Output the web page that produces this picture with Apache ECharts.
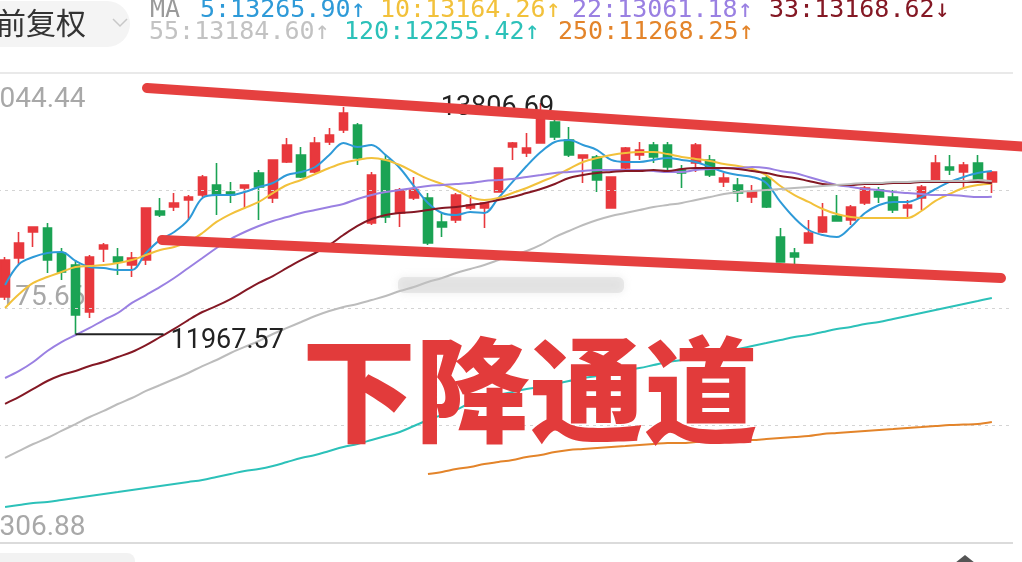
<!DOCTYPE html>
<html><head><meta charset="utf-8">
<script src="https://cdn.jsdelivr.net/npm/echarts@6/dist/echarts.min.js"></script>
<style>html,body{margin:0;padding:0;background:#fff;overflow:hidden}#c{width:1022px;height:562px}</style>
</head><body><div id="c"></div>
<script>
// ---------- data ----------
const open  = [12263,12573,12780,12812,12613,12518,12144,12645,12581,12518, 12557,12947,12979,13035,13074,13154,13098,13130,13249,13051, 13337,13392,13257,13496,13591,13631,12852,13353,12931,13051, 13051,12860,12876,12971,12971,13098,13456,13408,13488,13655, 13512,13369,13377,12971,13289,13392,13472,13472,13273,13329, 13353,13178,13154,13058,13210,12740,12613,12693,12780,12907, 12876,13011,13114,13058,12971,13051,13178,13297,13257,13329,13178];
const close = [12557,12693,12820,12557,12462,12120,12581,12677,12542,12573, 12971,12915,13011,13058,13218,13074,13074,13154,13138,13353, 13472,13218,13488,13551,13726,13369,13233,12899,13114,13114, 12693,12820,13074,12995,13011,13289,13488,13448,13687,13536, 13392,13392,13194,13217,13448,13432,13377,13297,13249,13472, 13233,13210,13090,13098,12979,12542,12581,12772,12899,12868, 12979,13130,13058,12955,12995,13138,13329,13273,13313,13194,13257];
const low   = [12239,12518,12661,12454,12399,11967.57,12096,12542,12438,12422, 12518,12899,12947,12876,13058,12915,13011,12971,12876,13011, 13329,13210,13249,13472,13567,13313,12836,12852,12820,13035, 12677,12740,12852,12955,12812,13094,13353,13377,13484,13512, 13377,13170,13098,12967,13273,13353,13329,13273,13130,13257, 13217,13138,13019,13011,12971,12538,12518,12689,12772,12864, 12836,12995,13011,12931,12891,12955,13174,13233,13130,13178,13090];
const high  = [12581,12780,12825,12852,12653,12557,12597,12693,12653,12621, 12975,13050,13090,13074,13233,13329,13178,13160,13273,13357, 13528,13456,13536,13607,13774,13647,13257,13392,13130,13217, 13090,12939,13090,13074,13019,13293,13496,13567,13806.69,13671, 13615,13396,13392,13221,13456,13496,13496,13496,13313,13488, 13392,13249,13210,13154,13233,12812,12653,12876,13011,13074, 12995,13146,13138,13114,13035,13154,13392,13392,13337,13392,13265];

const ma5   = [12359,12526,12581,12613,12621,12550,12502,12494,12478,12478, 12613,12717,12780,12876,13051,13074,13074,13098,13138,13170, 13233,13257,13297,13392,13488,13456,13472,13392,13289,13146, 13011,12931,12915,12939,12931,13051,13178,13305,13416,13496, 13512,13472,13432,13353,13337,13337,13353,13369,13353,13337, 13297,13257,13233,13218,13170,13019,12891,12796,12756,12740, 12820,12931,12995,13019,13019,13058,13122,13178,13218,13249,13265.90];
const ma10  = [12176,12287,12375,12422,12462,12502,12510,12518,12534,12557, 12597,12637,12661,12701,12772,12860,12923,12971,13019,13090, 13154,13194,13241,13289,13329,13353,13369,13353,13313,13257, 13202,13162,13114,13058,13035,13051,13090,13130,13178,13225, 13281,13337,13369,13392,13408,13416,13416,13400,13377,13361, 13345,13321,13305,13281,13233,13146,13074,13019,12963,12923, 12899,12891,12891,12891,12891,12947,13027,13082,13130,13154,13164.26];
const ma22  = [11619,11675,11746,11834,11905,11961,12017,12080,12136,12216, 12279,12343,12414,12494,12573,12653,12724,12780,12828,12868, 12899,12931,12955,12979,13003,13043,13074,13098,13114,13130, 13146,13154,13162,13170,13186,13194,13202,13218,13233,13249, 13257,13265,13273,13273,13273,13273,13265,13257,13257,13273, 13281,13289,13289,13297,13289,13265,13249,13218,13186,13154, 13138,13122,13114,13098,13090,13082,13074,13074,13066,13058,13061.18];
const ma33  = [11413,11468,11532,11595,11643,11675,11715,11746,11786,11826, 11881,11945,12009,12080,12144,12192,12247,12311,12375,12430, 12494,12557,12613,12677,12756,12828,12883,12915,12931,12939, 12955,12971,12979,12995,13011,13035,13058,13090,13122,13162, 13210,13233,13249,13257,13265,13265,13273,13265,13281,13289, 13289,13289,13281,13265,13249,13225,13210,13186,13162,13154, 13154,13162,13162,13170,13170,13178,13178,13178,13178,13178,13168.62];
const ma55  = [10983,11039,11094,11142,11198,11253,11309,11357,11412,11460, 11516,11563,11611,11659,11714,11762,11818,11866,11913,11969, 12017,12064,12112,12152,12184,12208,12239,12271,12311,12343, 12382,12414,12454,12486,12518,12557,12597,12629,12677,12740, 12788,12836,12876,12907,12931,12955,12979,12995,13011,13035, 13058,13082,13098,13106,13114,13122,13130,13138,13146,13154, 13162,13170,13170,13178,13178,13186,13186,13186,13186,13194,13184.60];
const ma120 = [10593,10609,10625,10633,10649,10665,10681,10697,10712,10728, 10744,10760,10776,10792,10808,10832,10856,10880,10895,10919, 10951,10983,11007,11039,11070,11094,11126,11158,11190,11237, 11285,11325,11365,11420,11452,11484,11508,11532,11547,11571, 11595,11619,11635,11659,11683,11698,11722,11746,11762,11786, 11810,11834,11850,11874,11897,11921,11945,11961,11985,12009, 12025,12048,12064,12088,12112,12136,12160,12184,12208,12231,12255.42];
const ma250 = [null,null,null,null,null,null,null,null,null,null, null,null,null,null,null,null,null,null,null,null, null,null,null,null,null,null,null,null,null,null, 10856,10872,10895,10911,10935,10951,10967,10991,11007,11031, 11047,11055,11063,11071,11078,11086,11094,11102,11102,11110, 11118,11118,11126,11126,11134,11142,11150,11158,11174,11182, 11190,11198,11206,11214,11222,11229,11237,11245,11249,11253,11268.25];

const yTicks = [10306.88, 11241.27, 12175.66, 13110.05, 14044.44];
const yLabelValues = [10306.88, 12175.66, 14044.44];

const maPeriods = ['5','10','22','33','55','120','250'];
const maLegendValues = ['13265.90','13164.26','13061.18','13168.62','13184.60','12255.42','11268.25'];
const maArrows = ['↑','↑','↑','↓','↑','↑','↑'];
const adjustLabel = '前复权';
const channelTitle = '下降通道';

// ---------- styling ----------
const maColors = ['#2e9ad8','#f2c13b','#9a80e2','#841824','#bcbcbc','#2cc1b9','#e3842a'];
const maWidths = [2, 2, 2, 2, 2, 2, 2];
const maSeriesData = [ma5, ma10, ma22, ma33, ma55, ma120, ma250];
const legendPos = [[200,10],[380,10],[572,10],[769,10],[149,32],[344,32],[558,32]];

const categories = [];
for (let i = 0; i < 72; i++) categories.push(String(i + 1));
const candle = open.map((o, i) => [o, close[i], low[i], high[i]]);

const chart = echarts.init(document.getElementById('c'));

const series = [{
  type: 'candlestick',
  data: candle,
  barWidth: 9,
  itemStyle: {color: '#e8383d', color0: '#1ba354', borderColor: '#e8383d', borderColor0: '#1ba354', borderWidth: 1.6},
  z: 2,
  silent: true,
  markLine: {
    silent: true, symbol: ['none','none'], label: {show: false},
    data: yTicks.map((v, i) => ({
      yAxis: v,
      lineStyle: (i === 0 || i === yTicks.length - 1)
        ? {type: 'solid', color: i === 0 ? '#cfcfcf' : '#e2e2e2', width: 1.5}
        : {type: [3, 4], color: '#d4d4d4', width: 1}
    }))
  }
}];
maSeriesData.forEach((d, k) => {
  series.push({
    type: 'line', data: d, smooth: 0.35, showSymbol: false, connectNulls: false,
    lineStyle: {color: maColors[k], width: maWidths[k]}, z: 5, silent: true
  });
});

chart.setOption({
  animation: false,
  backgroundColor: '#ffffff',
  grid: {left: -2, right: 9, top: 73, bottom: 19, containLabel: false, outerBoundsMode: 'none'},
  xAxis: {type: 'category', data: categories, boundaryGap: true,
    axisLine: {show: false}, axisTick: {show: false}, axisLabel: {show: false}, splitLine: {show: false}},
  yAxis: {type: 'value', min: yTicks[0], max: yTicks[yTicks.length - 1],
    axisLine: {show: false}, axisTick: {show: false}, splitLine: {show: false},
    axisLabel: {
      inside: true, margin: -30, customValues: yLabelValues, hideOverlap: false,
      formatter: function (v) {
        const s = Number(v).toFixed(2);
        if (Math.abs(v - yTicks[yTicks.length - 1]) < 0.5) return '{t|' + s + '}';
        if (Math.abs(v - yTicks[0]) < 0.5) return '{b|' + s + '}';
        return '{m|' + s + '}';
      },
      rich: {
        t: {color: '#a8a8a8', fontSize: 28, fontFamily: 'Roboto', padding: [54, 0, 0, 0]},
        m: {color: '#a8a8a8', fontSize: 28, fontFamily: 'Roboto', padding: [0, 0, 20, 0]},
        b: {color: '#a8a8a8', fontSize: 28, fontFamily: 'Roboto', padding: [0, 0, 30, 0]}
      }
    }
  },
  series: series
});

// ---------- overlay texts & annotations ----------
const g = [];
g.push({type: 'rect', shape: {x: -30, y: 1, width: 160, height: 46, r: 23}, style: {fill: '#f4f4f4'}, z: 50});
g.push({type: 'text', x: -4, y: 23, style: {text: adjustLabel, fill: '#333', font: '30px "Noto Sans CJK SC"', verticalAlign: 'middle', align: 'left'}, z: 51});
g.push({type: 'polyline', shape: {points: [[113, 19], [120, 26], [127, 19]]}, style: {stroke: '#c8c8c8', lineWidth: 1.5, fill: null}, z: 51});
g.push({type: 'text', x: 150, y: 10, style: {text: 'MA', fill: '#9a9a9a', font: '25px "DejaVu Sans Mono"', verticalAlign: 'middle'}, z: 51});
maPeriods.forEach((p, k) => {
  g.push({type: 'text', x: legendPos[k][0], y: legendPos[k][1],
    style: {text: p + ':' + maLegendValues[k] + maArrows[k], fill: maColors[k] === '#bcbcbc' ? '#c2c2c2' : maColors[k],
      font: '25px "DejaVu Sans Mono"', verticalAlign: 'middle'}, z: 51});
});

// min / max markers
let minIdx = 0, maxIdx = 0;
low.forEach((v, i) => { if (v < low[minIdx]) minIdx = i; });
high.forEach((v, i) => { if (v > high[maxIdx]) maxIdx = i; });
const pMin = chart.convertToPixel({gridIndex: 0}, [minIdx, low[minIdx]]);
const pMax = chart.convertToPixel({gridIndex: 0}, [maxIdx, high[maxIdx]]);
g.push({type: 'line', shape: {x1: pMin[0], y1: pMin[1], x2: pMin[0] + 88, y2: pMin[1]}, style: {stroke: '#222', lineWidth: 2}, z: 40});
g.push({type: 'text', x: pMin[0] + 95, y: pMin[1] + 7, style: {text: low[minIdx].toFixed(2), fill: '#222', font: '27px Roboto', verticalAlign: 'middle'}, z: 40});
g.push({type: 'text', x: pMax[0] - 100, y: pMax[1] + 5, style: {text: high[maxIdx].toFixed(2), fill: '#222', font: '27px Roboto', verticalAlign: 'middle'}, z: 40});

// blurred watermark remnant
g.push({type: 'rect', shape: {x: 398, y: 277, width: 226, height: 16, r: 6}, style: {fill: 'rgba(200,200,200,0.35)', shadowBlur: 8, shadowColor: 'rgba(180,180,180,0.6)'}, z: 30});

// big title (hand-written annotation, on top of the chart)
g.push({type: 'text', x: 302, y: 390, style: {text: channelTitle, fill: '#e23b3b', font: '900 114px "Noto Sans CJK SC"', verticalAlign: 'middle'}, z: 90});

// hand-drawn channel lines
g.push({type: 'line', shape: {x1: 147, y1: 88, x2: 1030, y2: 147}, style: {stroke: '#e5403f', lineWidth: 10, lineCap: 'round'}, z: 100});
g.push({type: 'line', shape: {x1: 162, y1: 240, x2: 1001, y2: 278}, style: {stroke: '#e5403f', lineWidth: 10, lineCap: 'round'}, z: 100});

// bottom ui bits
g.push({type: 'rect', shape: {x: -20, y: 553, width: 155, height: 20, r: 8}, style: {fill: '#f2f2f2'}, z: 50});
g.push({type: 'polygon', shape: {points: [[955, 563], [965, 555], [975, 563]]}, style: {fill: '#555'}, z: 50});

chart.setOption({graphic: g});
</script>
</body></html>
